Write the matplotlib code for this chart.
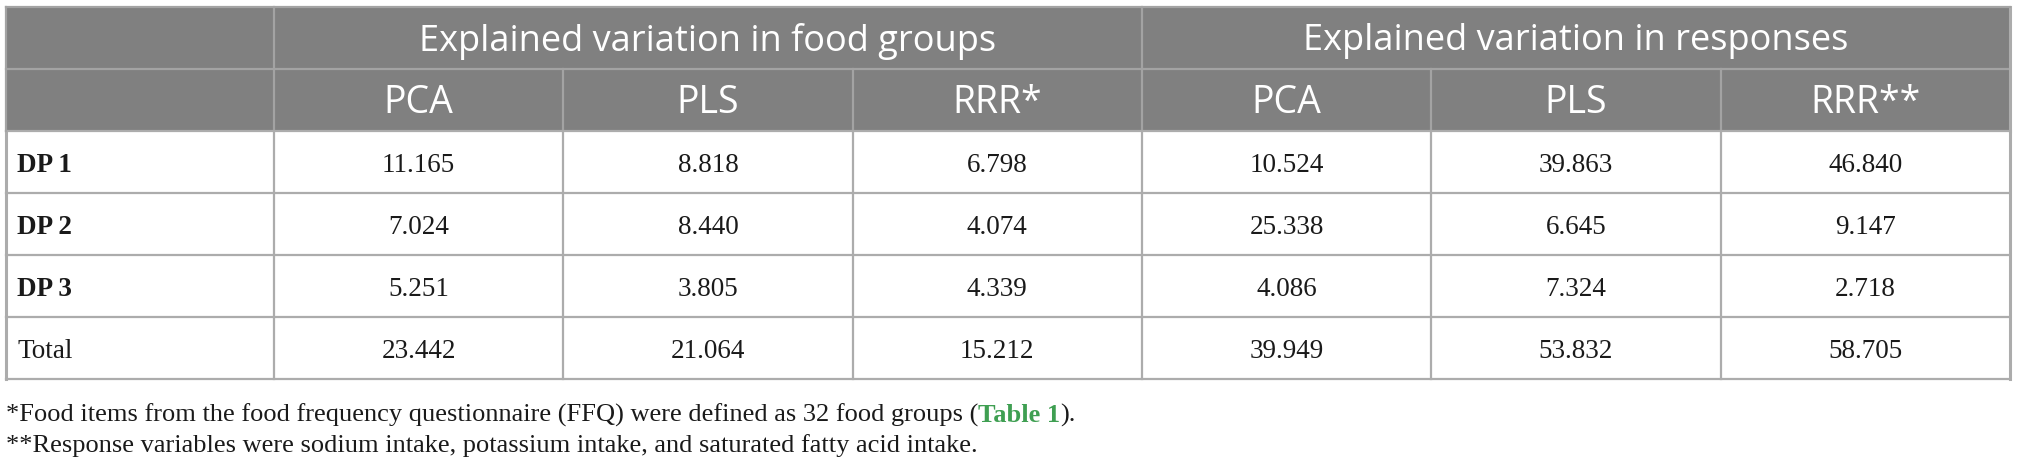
import matplotlib
matplotlib.use("Agg")
import matplotlib.pyplot as plt
from matplotlib.patches import Rectangle

# ---- data ----
group_headers = ["Explained variation in food groups", "Explained variation in responses"]
method_headers = ["PCA", "PLS", "RRR*", "PCA", "PLS", "RRR**"]
row_labels = ["DP 1", "DP 2", "DP 3", "Total"]
row_bold = [True, True, True, False]
food_pca = ["11.165", "7.024", "5.251", "23.442"]
food_pls = ["8.818", "8.440", "3.805", "21.064"]
food_rrr = ["6.798", "4.074", "4.339", "15.212"]
resp_pca = ["10.524", "25.338", "4.086", "39.949"]
resp_pls = ["39.863", "6.645", "7.324", "53.832"]
resp_rrr = ["46.840", "9.147", "2.718", "58.705"]
footnote1_pre = "*Food items from the food frequency questionnaire (FFQ) were defined as 32 food groups ("
footnote1_link = "Table 1"
footnote1_post = ")."
footnote2 = "**Response variables were sodium intake, potassium intake, and saturated fatty acid intake."

columns = [food_pca, food_pls, food_rrr, resp_pca, resp_pls, resp_rrr]

# ---- layout (pixel units) ----
W, H = 2018, 471
fig = plt.figure(figsize=(W / 100, H / 100), dpi=100)
ax = fig.add_axes([0, 0, 1, 1])
ax.set_xlim(0, W)
ax.set_ylim(H, 0)
ax.axis("off")

left, right = 6, 2010
first_w = 268
col_w = (right - left - first_w) / 6
xb = [left, left + first_w] + [left + first_w + col_w * (i + 1) for i in range(6)]
top = 7
row_h = 62
yb = [top + row_h * i for i in range(7)]

header_bg = "#808080"
header_line = "#a3a3a3"
grid = "#acacac"
lw = 1.6

# header background
ax.add_patch(Rectangle((left, yb[0]), right - left, yb[2] - yb[0],
                       facecolor=header_bg, edgecolor="none", zorder=1))

# header lines
ax.plot([left, right], [yb[1], yb[1]], color=header_line, lw=lw, zorder=2)
ax.plot([xb[1], xb[1]], [yb[0], yb[2]], color=header_line, lw=lw, zorder=2)
ax.plot([xb[4], xb[4]], [yb[0], yb[2]], color=header_line, lw=lw, zorder=2)
for i in [2, 3, 5, 6]:
    ax.plot([xb[i], xb[i]], [yb[1], yb[2]], color=header_line, lw=lw, zorder=2)

# body lines
for j in range(2, 7):
    ax.plot([left, right], [yb[j], yb[j]], color=grid, lw=lw, zorder=2)
for i in range(0, 8):
    ax.plot([xb[i], xb[i]], [yb[2], yb[6]], color=grid, lw=lw if i not in (0, 7) else 2.2, zorder=2)
ax.plot([left, left], [yb[0], yb[2]], color=header_line, lw=lw, zorder=2)
ax.plot([right, right], [yb[0], yb[2]], color=grid, lw=2.2, zorder=2)
ax.plot([left, right], [yb[0], yb[0]], color=header_line, lw=lw, zorder=2)

sans = ["Open Sans", "DejaVu Sans"]
serif = ["Liberation Serif", "DejaVu Serif"]

# group headers
for g, name in enumerate(group_headers):
    cx = (xb[1 + 3 * g] + xb[4 + 3 * g]) / 2
    ax.text(cx, (yb[0] + yb[1]) / 2 + 3, name, ha="center", va="center",
            color="white", fontsize=26, family=sans, zorder=3)

# method headers
for i, name in enumerate(method_headers):
    cx = (xb[1 + i] + xb[2 + i]) / 2
    ax.text(cx, (yb[1] + yb[2]) / 2 + 3, name, ha="center", va="center",
            color="white", fontsize=27, family=sans, zorder=3)

# body
for r, lab in enumerate(row_labels):
    cy = (yb[2 + r] + yb[3 + r]) / 2 + 3
    ax.text(left + 11, cy, lab, ha="left", va="center", color="#1a1a1a",
            fontsize=19.5, family=serif, fontweight="bold" if row_bold[r] else "normal", zorder=3)
    for i, col in enumerate(columns):
        cx = (xb[1 + i] + xb[2 + i]) / 2
        ax.text(cx, cy, col[r], ha="center", va="center", color="#1a1a1a",
                fontsize=19.5, family=serif, zorder=3)

# footnotes
fn_size = 19
t1 = ax.text(left, 422, footnote1_pre, ha="left", va="baseline", color="#1a1a1a",
             fontsize=fn_size, family=serif)
t2 = ax.annotate(footnote1_link, xy=(1, 0), xycoords=t1, ha="left", va="bottom",
                 color="#3f9f52", fontsize=fn_size, family=serif, fontweight="bold")
ax.annotate(footnote1_post, xy=(1, 0), xycoords=t2, ha="left", va="bottom",
            color="#1a1a1a", fontsize=fn_size, family=serif)
ax.text(left, 452, footnote2, ha="left", va="baseline", color="#1a1a1a",
        fontsize=fn_size, family=serif)

fig.savefig("out.png", dpi=100, facecolor="white")
